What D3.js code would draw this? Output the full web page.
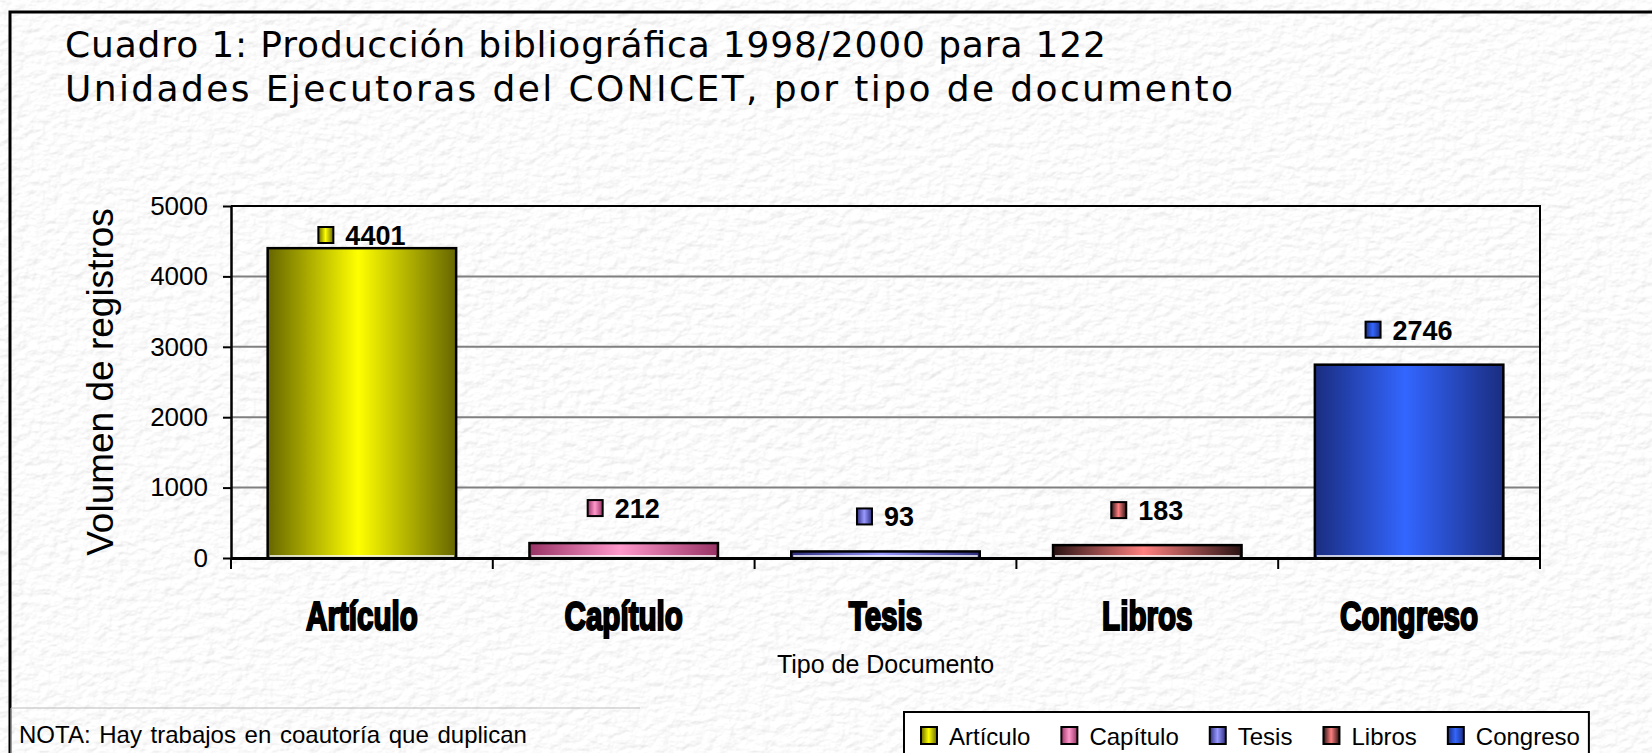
<!DOCTYPE html>
<html>
<head>
<meta charset="utf-8" />
<title>Cuadro 1</title>
<script src="https://cdn.jsdelivr.net/npm/d3@7/dist/d3.min.js"></script>
<style>
body{margin:0;background:#f4f4f4;}
svg{display:block;}
</style>
</head>
<body>
<svg id="chart" width="1652" height="753"></svg>
<script>
// datos
var titleLines = ["Cuadro 1: Producción bibliográfica 1998/2000 para 122",
                  "Unidades Ejecutoras del CONICET, por tipo de documento"];
var categories = ["Artículo","Capítulo","Tesis","Libros","Congreso"];
var values = [4401,212,93,183,2746];
var yTicks = [0,1000,2000,3000,4000,5000];
var yTitle = "Volumen de registros";
var xTitle = "Tipo de Documento";
var note = "NOTA: Hay trabajos en coautoría que duplican";
// colores: centro claro / borde oscuro
var lightColors = ["#ffff00","#ff99cc","#9999ff","#ff8080","#3366ff"];
var darkColors  = ["#666600","#993366","#2e2e80","#2a1212","#1a2d80"];

var W = 1652, H = 753;
var plot = {left:231, right:1540, top:206, bottom:558};
var svg = d3.select("#chart");
var defs = svg.append("defs");

// textura de papel
var f = defs.append("filter").attr("id","paper").attr("x",0).attr("y",0).attr("width","100%").attr("height","100%");
f.append("feTurbulence").attr("type","fractalNoise").attr("baseFrequency","0.09 0.13").attr("numOctaves",3).attr("seed",7).attr("result","n");
var dl = f.append("feDiffuseLighting").attr("in","n").attr("surfaceScale",2.5).attr("lighting-color","#ffffff").attr("result","l");
dl.append("feDistantLight").attr("azimuth",235).attr("elevation",58);
var ct = f.append("feComponentTransfer").attr("in","l");
["feFuncR","feFuncG","feFuncB"].forEach(function(k){
	ct.append(k).attr("type","linear").attr("slope",0.34).attr("intercept",0.69);
});
svg.append("rect").attr("width",W).attr("height",H).attr("filter","url(#paper)");

// degradados de las barras
categories.forEach(function(c,i){
	var g = defs.append("linearGradient").attr("id","grad"+i).attr("x1","0%").attr("x2","100%").attr("y1","0%").attr("y2","0%");
	g.append("stop").attr("offset","0%").attr("stop-color",darkColors[i]);
	g.append("stop").attr("offset","48%").attr("stop-color",lightColors[i]);
	g.append("stop").attr("offset","100%").attr("stop-color",darkColors[i]);
});

// marco exterior
svg.append("rect").attr("x",10).attr("y",12).attr("width",1700).attr("height",800)
	.attr("fill","none").attr("stroke","#000").attr("stroke-width",3);

// titulo
svg.append("g").selectAll("text").data(titleLines).enter().append("text")
	.attr("x",65).attr("y",function(d,i){return 57+i*44;})
	.attr("textLength",function(d,i){return i==0 ? 1041 : 1168;})
	.attr("lengthAdjust","spacing")
	.style("font-family","'DejaVu Sans', Verdana, sans-serif").style("font-size","36px").style("fill","#000")
	.text(function(d){return d;});

var x = d3.scaleBand().domain(categories).range([plot.left, plot.right]).paddingInner(0.28).paddingOuter(0.14);
var y = d3.scaleLinear().domain([0,5000]).range([plot.bottom, plot.top]);

// lineas de division
svg.append("g").selectAll("line").data(yTicks.filter(function(t){return t>0 && t<5000;})).enter().append("line")
	.attr("x1",plot.left).attr("x2",plot.right).attr("y1",function(d){return y(d);}).attr("y2",function(d){return y(d);})
	.attr("stroke","#808080").attr("stroke-width",2);
// borde superior y derecho del area
svg.append("path").attr("d","M"+plot.left+","+y(5000)+"H"+plot.right+"V"+plot.bottom)
	.attr("fill","none").attr("stroke","#000").attr("stroke-width",2);

// barras
var bars = svg.append("g");
bars.selectAll("rect").data(values).enter().append("rect")
	.attr("x",function(d,i){return x(categories[i]);})
	.attr("y",function(d){return y(d);})
	.attr("width",x.bandwidth())
	.attr("height",function(d){return y(0)-y(d);})
	.attr("fill",function(d,i){return "url(#grad"+i+")";})
	.attr("stroke","#000").attr("stroke-width",2.5);
bars.selectAll("line").data(values).enter().append("line")
	.attr("x1",function(d,i){return x(categories[i])+2;})
	.attr("x2",function(d,i){return x(categories[i])+x.bandwidth()-2;})
	.attr("y1",y(0)-2).attr("y2",y(0)-2)
	.attr("stroke","#fff").attr("stroke-width",1.5);

// eje y
var yAxis = svg.append("g").attr("transform","translate("+plot.left+",0)")
	.call(d3.axisLeft(y).tickValues(yTicks).tickFormat(d3.format("d")).tickSize(8).tickSizeOuter(0).tickPadding(15));
yAxis.select(".domain").attr("stroke","#000").attr("stroke-width",2.5);
yAxis.selectAll(".tick line").attr("stroke","#000").attr("stroke-width",2);
yAxis.selectAll(".tick text").style("font-family","'Liberation Sans', Arial, sans-serif").style("font-size","26px").style("fill","#000");

// eje x
var xAxis = svg.append("g").attr("transform","translate(0,"+plot.bottom+")")
	.call(d3.axisBottom(x).tickSize(0).tickSizeOuter(0));
xAxis.select(".domain").attr("stroke","#000").attr("stroke-width",3);
xAxis.selectAll(".tick text").attr("y",72).attr("dy",0)
	.attr("transform","scale(0.74,1)")
	.style("font-family","'Liberation Sans', Arial, sans-serif").style("font-weight","bold").style("font-size","40px")
	.style("fill","#000").style("stroke","#000").style("stroke-width","2.2px");
var edges = categories.map(function(c){return x(c)-x.step()*x.paddingInner()/2;});
edges.push(x(categories[categories.length-1])+x.bandwidth()+x.step()*x.paddingInner()/2);
xAxis.selectAll("line.edge").data(edges).enter().append("line").attr("class","edge")
	.attr("x1",function(d){return d;}).attr("x2",function(d){return d;}).attr("y1",0).attr("y2",11)
	.attr("stroke","#000").attr("stroke-width",2);

// titulos de ejes
svg.append("text").attr("transform","translate(113,"+((plot.top+plot.bottom)/2)+") rotate(-90)")
	.attr("text-anchor","middle")
	.style("font-family","'Liberation Sans', Arial, sans-serif").style("font-size","37px").style("fill","#000")
	.text(yTitle);
svg.append("text").attr("x",(plot.left+plot.right)/2).attr("y",673).attr("text-anchor","middle")
	.style("font-family","'Liberation Sans', Arial, sans-serif").style("font-size","25px").style("fill","#000")
	.text(xTitle);

// etiquetas de datos
var labels = svg.append("g");
values.forEach(function(v,i){
	var cx = x(categories[i])+x.bandwidth()/2;
	var base = Math.max(y(v)-25, plot.top+39);
	var g = labels.append("g");
	var t = g.append("text").attr("y",base)
		.style("font-family","'Liberation Sans', Arial, sans-serif").style("font-weight","bold").style("font-size","27px").style("fill","#000")
		.text(v);
	var tw = t.node().getComputedTextLength();
	var total = 16+11+tw;
	var sx = cx-total/2;
	g.append("rect").attr("x",sx).attr("y",base-18).attr("width",15).attr("height",16)
		.attr("fill","url(#grad"+i+")").attr("stroke","#000").attr("stroke-width",2);
	t.attr("x",sx+27);
});

// leyenda
var legend = svg.append("g");
var box = legend.append("rect").attr("x",904).attr("y",712).attr("height",60)
	.attr("fill","#fff").attr("stroke","#000").attr("stroke-width",2);
var lx = 921;
categories.forEach(function(c,i){
	legend.append("rect").attr("x",lx).attr("y",727).attr("width",16).attr("height",17)
		.attr("fill","url(#grad"+i+")").attr("stroke","#000").attr("stroke-width",2);
	var t = legend.append("text").attr("x",lx+28).attr("y",745)
		.style("font-family","'Liberation Sans', Arial, sans-serif").style("font-size","24px").style("fill","#000")
		.text(c);
	lx = lx+28+t.node().getComputedTextLength()+31;
});
box.attr("width",lx-31+9-904);

// nota
svg.append("path").attr("d","M11,760V708H640").attr("fill","none").attr("stroke","#bbbbbb").attr("stroke-width",1);
svg.append("text").attr("x",19).attr("y",743).attr("word-spacing",2)
	.style("font-family","'Liberation Sans', Arial, sans-serif").style("font-size","24px").style("fill","#000")
	.text(note);
</script>
</body>
</html>
